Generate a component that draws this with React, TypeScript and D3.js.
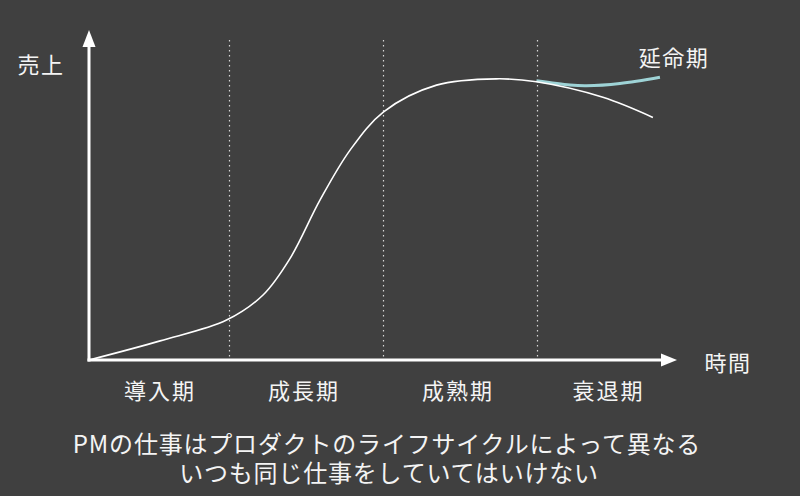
import React, { useEffect, useRef } from 'react';
import * as d3 from 'd3';

// main product life cycle curve (time 0-100, sales 0-100)
const lifeTime = [0, 12.1, 23.4, 29.6, 34.2, 39.3, 44.4, 50.1, 59.1, 69.3, 76.1, 87.4, 95.9];
const lifeSales = [0, 5.8, 12.1, 19.7, 30.8, 48.5, 63.6, 75.2, 83.3, 85.2, 84.3, 79.6, 73.5];

// extension branch
const extTime = [76.1, 81.8, 84.6, 90.3, 97.1];
const extSales = [84.6, 83.3, 83.1, 83.8, 85.7];

const phaseBounds = [23.8, 50, 76.2];
const phaseLabels = ['導入期', '成長期', '成熟期', '衰退期'];
const phaseCenters = [11.9, 36.4, 62.6, 88.2];

const yLabel = '売上';
const xLabel = '時間';
const extLabel = '延命期';
const captionLines = ['PMの仕事はプロダクトのライフサイクルによって異なる', 'いつも同じ仕事をしていてはいけない'];

const W = 800;
const H = 496;
const FONT = '"Noto Sans CJK JP", "Noto Sans", sans-serif';

const App: React.FC = () => {
    const svgRef = useRef<SVGSVGElement>(null);

    useEffect(() => {
        if (!svgRef.current) return;
        const svg = d3.select(svgRef.current);
        svg.selectAll('*').remove();

        const x = d3.scaleLinear().domain([0, 100]).range([89, 677]);
        const y = d3.scaleLinear().domain([0, 100]).range([360, 30]);

        svg.append('rect').attr('width', W).attr('height', H).attr('fill', '#404040');

        // phase dividers
        svg.selectAll('.divider')
            .data(phaseBounds)
            .enter()
            .append('line')
            .attr('x1', d => Math.round(x(d)) + 0.5)
            .attr('x2', d => Math.round(x(d)) + 0.5)
            .attr('y1', 40)
            .attr('y2', y(0))
            .attr('stroke', '#d8d8d8')
            .attr('stroke-width', 1.2)
            .attr('stroke-dasharray', '1.5,3.5');

        const line = d3.line<[number, number]>()
            .x(d => x(d[0]))
            .y(d => y(d[1]))
            .curve(d3.curveCatmullRom.alpha(0.5));

        // extension curve
        svg.append('path')
            .attr('d', line(extTime.map((t, i) => [t, extSales[i]]))!)
            .attr('fill', 'none')
            .attr('stroke', '#9ed3d6')
            .attr('stroke-width', 3);

        // main curve
        svg.append('path')
            .attr('d', line(lifeTime.map((t, i) => [t, lifeSales[i]]))!)
            .attr('fill', 'none')
            .attr('stroke', '#ffffff')
            .attr('stroke-width', 1.6);

        // axes
        const x0 = x(0);
        const y0 = y(0);
        svg.append('line')
            .attr('x1', x0).attr('y1', y0 + 1.5)
            .attr('x2', x0).attr('y2', 44)
            .attr('stroke', '#fff').attr('stroke-width', 3);
        svg.append('line')
            .attr('x1', x0 - 1.5).attr('y1', y0)
            .attr('x2', 664).attr('y2', y0)
            .attr('stroke', '#fff').attr('stroke-width', 3);
        svg.append('path')
            .attr('d', `M${x0},30 L${x0 + 6.5},47 L${x0 - 6.5},47 Z`)
            .attr('fill', '#fff');
        svg.append('path')
            .attr('d', `M677,${y0} L661,${y0 - 6.5} L661,${y0 + 6.5} Z`)
            .attr('fill', '#fff');

        const txt = (s: string, tx: number, ty: number, size: number, spacing = 0) =>
            svg.append('text')
                .attr('x', tx)
                .attr('y', ty)
                .attr('text-anchor', 'middle')
                .attr('dominant-baseline', 'central')
                .attr('font-family', FONT)
                .attr('font-size', size)
                .attr('letter-spacing', spacing)
                .attr('fill', '#f4f4f4')
                .text(s);

        txt(yLabel, 41, 63, 22, 1.5);
        txt(xLabel, 728, 361, 22, 1.5);
        txt(extLabel, 674, 56, 22, 1.5);

        phaseLabels.forEach((p, i) => txt(p, x(phaseCenters[i]) + 1, 389, 22, 2));

        txt(captionLines[0], 387, 442, 24, 0.8);
        txt(captionLines[1], 389, 471, 24, 0.8);
    }, []);

    return (
        <svg ref={svgRef} width={W} height={H} style={{ display: 'block', position: 'absolute', left: 0, top: 0 }} />
    );
};

export default App;
